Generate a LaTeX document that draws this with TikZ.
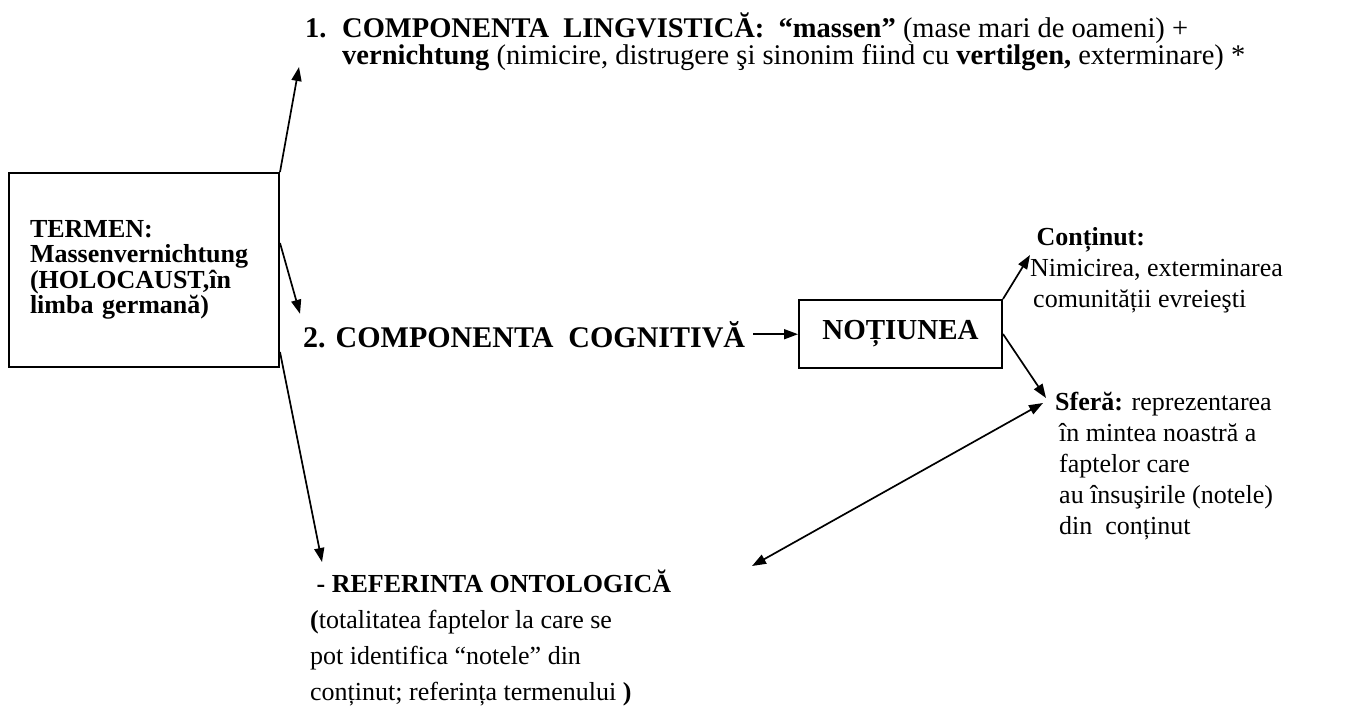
\documentclass[tikz,border=0pt]{standalone}
\usepackage{fontspec}
\setmainfont{Liberation Serif}
\usetikzlibrary{arrows.meta}
\newcommand\bodysize{\fontsize{26}{30}\selectfont}
\begin{document}
\begin{tikzpicture}[x=1pt,y=-1pt,
    box/.style={draw,line width=2pt,inner sep=0pt},
    txt/.style={inner sep=0pt,anchor=base west,font=\bodysize},
    link/.style={line width=1.7pt,-{Triangle[length=14pt,width=10pt]}},
    twolink/.style={line width=1.7pt,{Triangle[length=14pt,width=10pt]}-{Triangle[length=14pt,width=10pt]}}]
  \useasboundingbox (0,0) rectangle (1351,715);
  % the term and its three components
  \node[box,minimum width=270pt,minimum height=194pt,text width=228pt,align=left,
        font=\bfseries\fontsize{26}{25.5}\selectfont] (termen) at (144,270)
        {TERMEN:\\Massenvernichtung\\(HOLOCAUST,în\\limba germană)};
  \node[txt,font=\fontsize{28.5}{26}\selectfont] (ling) at (305,37) {\begin{tabular}[t]{@{}l@{}l@{}}
      \makebox[37pt][l]{\bfseries 1.} & \textbf{COMPONENTA\ \ LINGVISTICĂ:\ \ “massen”} (mase mari de oameni) +\\
      & \textbf{vernichtung} (nimicire, distrugere şi sinonim fiind cu \textbf{vertilgen,} exterminare) *
    \end{tabular}};
  \node[txt,font=\bfseries\fontsize{30}{34}\selectfont] (cog) at (303,347) {2. COMPONENTA\ \ COGNITIVĂ};
  \node[txt,font=\fontsize{26}{36}\selectfont] (referinta) at (310,592) {\begin{tabular}[t]{@{}l@{}}
      \ \textbf{- REFERINTA ONTOLOGICĂ}\\
      \textbf{(}totalitatea faptelor la care se\\
      pot identifica “notele” din\\
      conținut; referința termenului \textbf{)}
    \end{tabular}};
  % the notion
  \node[box,minimum width=203pt,minimum height=68pt,font=\bfseries\fontsize{29}{34}\selectfont] (notiune) at (900.5,334) {NOȚIUNEA};
  \node[txt,font=\fontsize{26}{31}\selectfont] (continut) at (1030,245) {\begin{tabular}[t]{@{}l@{}}
      \ \textbf{Conținut:}\\
      Nimicirea, exterminarea\\
      \hspace{3pt}comunității evreieşti
    \end{tabular}};
  \node[txt,font=\fontsize{26}{31}\selectfont] (sfera) at (1055,410) {\begin{tabular}[t]{@{}l@{}}
      \textbf{Sferă:} reprezentarea\\
      \hspace{4pt}în mintea noastră a\\
      \hspace{4pt}faptelor care\\
      \hspace{4pt}au însuşirile (notele)\\
      \hspace{4pt}din\ \ conținut
    \end{tabular}};
  \coordinate (ontend) at (752,566);
  % arrows
  \draw[link] (termen.north east) -- ([xshift=-6pt,yshift=-30pt]ling.base west);
  \draw[link] ([yshift=27pt]termen.east) -- ([xshift=-3pt,yshift=7pt]cog.north west);
  \draw[link] ([yshift=-82pt]termen.east) -- ([xshift=12pt,yshift=30pt]referinta.base west);
  \draw[link,shorten <=8pt] (cog.east) -- (cog.east -| notiune.west);
  \draw[link] (notiune.north east) -- ([yshift=-10pt]continut.base west);
  \draw[link] (notiune.east) -- ([xshift=-9pt,yshift=12pt]sfera.base west);
  \draw[twolink] ([xshift=-12pt,yshift=7pt]sfera.base west) -- (ontend);
\end{tikzpicture}
\end{document}
